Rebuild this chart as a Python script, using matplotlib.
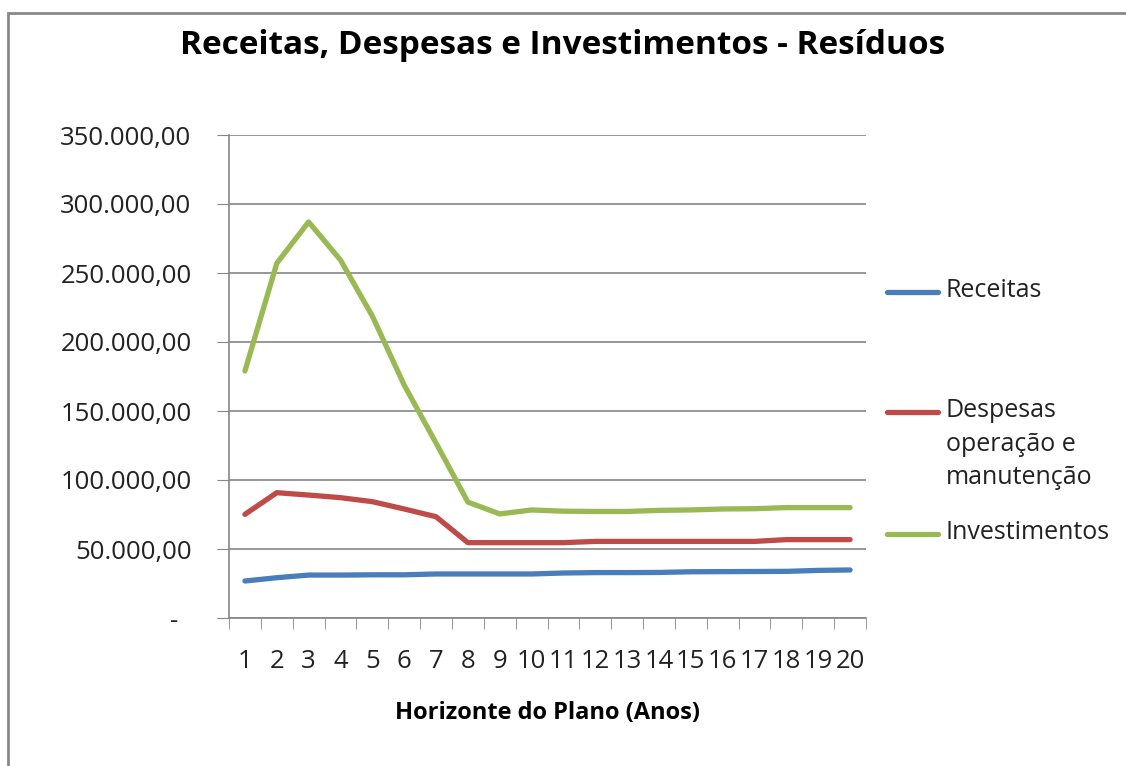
import matplotlib
matplotlib.use("Agg")
import matplotlib.pyplot as plt
from matplotlib.patches import Rectangle
from matplotlib.lines import Line2D
from matplotlib import font_manager

years = list(range(1, 21))
receitas = [26800, 29200, 31100, 31100, 31300, 31300, 31900, 31900, 31900, 31900,
            32600, 32900, 32900, 33000, 33500, 33600, 33700, 33800, 34500, 34800]
despesas = [75100, 90800, 89100, 87200, 84300, 79000, 73400, 54600, 54600, 54600,
            54600, 55500, 55500, 55500, 55500, 55500, 55500, 56800, 56800, 56800]
investimentos = [179000, 257000, 287000, 259400, 218800, 168800, 126800, 84000, 75400, 78300,
                 77400, 77200, 77200, 78000, 78300, 79000, 79200, 80000, 80000, 80000]
series_names = ["Receitas", "Despesas\noperação e\nmanutenção", "Investimentos"]
ytick_vals = [0, 50000, 100000, 150000, 200000, 250000, 300000, 350000]
ytick_labels = ["-  ", "50.000,00", "100.000,00", "150.000,00", "200.000,00",
                "250.000,00", "300.000,00", "350.000,00"]

avail = {f.name for f in font_manager.fontManager.ttflist}
fam = [f for f in ["Open Sans", "DejaVu Sans"] if f in avail]
plt.rcParams['font.family'] = fam

fig = plt.figure(figsize=(11.26, 7.66), dpi=100)
fig.patch.set_facecolor("white")
ax = fig.add_axes([229/1126, 1-618/766, (866-229)/1126, (618-135)/766])

colors = ["#4A7EBB", "#BE4B48", "#98B954"]
for vals, c in zip([receitas, despesas, investimentos], colors):
    ax.plot(years, vals, color=c, lw=3.8, solid_capstyle="round", solid_joinstyle="round")

ax.set_xlim(0.5, 20.5)
ax.set_ylim(0, 350000)
ax.set_yticks(ytick_vals)
ax.set_yticklabels(ytick_labels, fontsize=18.5, color="#222222")
ax.set_xticks(years)
ax.set_xticklabels([str(y) for y in years], fontsize=18.5, color="#222222")
ax.set_xticks([i + 0.5 for i in range(0, 21)], minor=True)
ax.tick_params(axis="x", which="major", length=0, pad=22)
ax.tick_params(axis="x", which="minor", length=8, color="#868686", direction="out")
ax.tick_params(axis="y", length=9, color="#868686", direction="out", pad=18)
for s in ["top", "right"]:
    ax.spines[s].set_visible(False)
for s in ["left", "bottom"]:
    ax.spines[s].set_color("#868686")
    ax.spines[s].set_linewidth(1.2)
ax.grid(axis="y", color="#868686", lw=1.2)
ax.set_axisbelow(True)

ax.set_xlabel("Horizonte do Plano (Anos)", fontsize=17, fontweight="bold", labelpad=20)
fig.text(0.5, 1-46/766, "Receitas, Despesas e Investimentos - Resíduos",
         ha="center", va="center", fontsize=24, fontweight="bold")

# legend drawn manually so the handle aligns with the first text line (Excel style)
leg_y = [292, 412, 534]
for c, n, y in zip(colors, series_names, leg_y):
    fy = 1 - y/766
    fig.add_artist(Line2D([887/1126, 938/1126], [fy, fy], transform=fig.transFigure,
                          color=c, lw=3.8, solid_capstyle="round"))
    fig.text(946/1126, fy + 14/766, n, ha="left", va="top", fontsize=18,
             linespacing=1.45, color="#222222")

fig.add_artist(Rectangle((8/1126, -0.02), 1.05, (766-13)/766 + 0.02, transform=fig.transFigure,
                         fill=False, edgecolor="#888888", lw=2))

fig.savefig("out.png", dpi=100)
